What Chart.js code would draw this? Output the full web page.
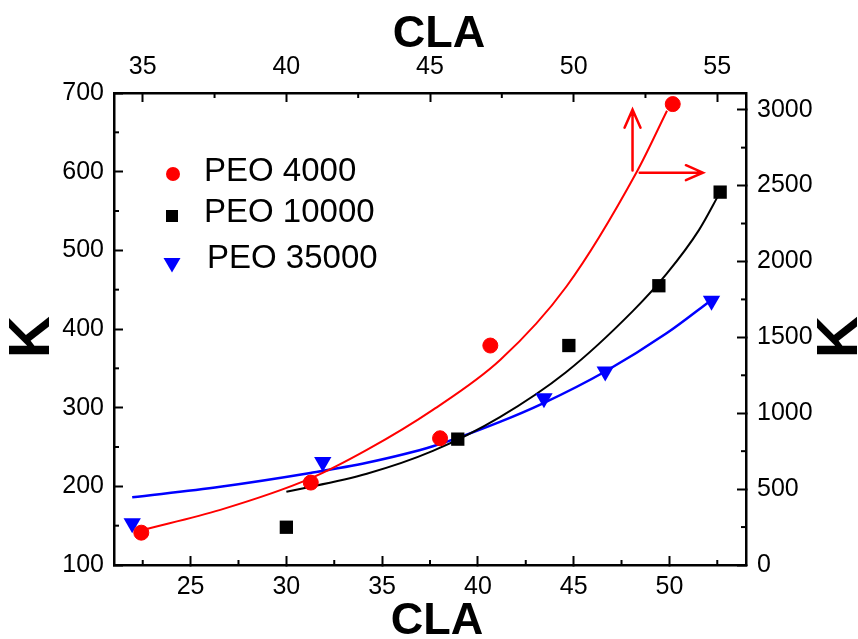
<!DOCTYPE html>
<html>
<head>
<meta charset="utf-8">
<script src="https://cdn.jsdelivr.net/npm/chart.js@4.4.0/dist/chart.umd.min.js"></script>
<style>
html, body { margin: 0; padding: 0; background: #fff; }
#wrap { width: 858px; height: 639px; }
</style>
</head>
<body>
<div id="wrap"><canvas id="kChart" width="858" height="639"></canvas></div>
<script>
// PEO 4000 is read on the top / right axes (that is what the arrows say), the others on bottom / left
const peo4000X = [34.95, 40.85, 45.35, 47.1, 53.45]
const peo4000Y = [213, 543, 835, 1446, 3037]
const peo10000X = [30.0, 38.95, 44.75, 49.45, 52.65]
const peo10000Y = [148, 260, 379, 455, 574]
const peo35000X = [21.95, 31.9, 43.45, 46.65, 52.2]
const peo35000Y = [153, 231, 312, 346, 436]

// fitted curves, points
const fit4000X = [35.0, 37.7, 40.8, 42.8, 45.1, 47.45, 49.75, 52.2, 53.25]
const fit4000Y = [231, 363, 567, 758, 1022, 1352, 1835, 2591, 2993]
const fit10000X = [30.0, 34.2, 37.65, 41.15, 44.6, 48.1, 49.85, 51.55, 52.65]
const fit10000Y = [193, 216, 245, 288, 345, 423, 470, 526, 574]
const fit35000X = [21.95, 26.55, 31.25, 34.2, 37.65, 41.15, 43.4, 46.65, 49.85, 52.2]
const fit35000Y = [186, 199.5, 217, 230, 251, 282, 305.5, 346, 394.5, 437]

const bottomTicks = [25, 30, 35, 40, 45, 50]
const bottomMinor = [22.5, 27.5, 32.5, 37.5, 42.5, 47.5, 52.5]
const topTicks = [35, 40, 45, 50, 55]
const topMinor = [37.5, 42.5, 47.5, 52.5]
const leftTicks = [100, 200, 300, 400, 500, 600, 700]
const leftMinor = [150, 250, 350, 450, 550, 650]
const rightTicks = [0, 500, 1000, 1500, 2000, 2500, 3000]
const rightMinor = [250, 750, 1250, 1750, 2250, 2750]

// the two arrows next to the red curve (top / right axis units)
const arrowUp = { x: 52.05, from: 2600, to: 3000 }
const arrowRight = { y: 2585, from: 52.3, to: 54.5 }

const RED = '#ff0000', BLACK = '#000000', BLUE = '#0000ff'
const FAMILY = "'Liberation Sans', Arial, sans-serif"

const pts = (xs, ys) => xs.map((x, i) => ({ x: x, y: ys[i] }))

function axis(pos, min, max, ticks, pad, size) {
    return {
        type: 'linear',
        position: pos,
        min: min,
        max: max,
        afterBuildTicks: s => { s.ticks = ticks.map(v => ({ value: v })) },
        afterFit: s => {
            if (pos === 'left' || pos === 'right') s.width = size
            else s.height = size
        },
        grid: {
            drawOnChartArea: false,
            drawTicks: true,
            tickLength: -9, // ticks point into the plot
            tickWidth: 2,
            tickColor: BLACK
        },
        border: { display: true, color: BLACK, width: 2.5 },
        ticks: {
            color: BLACK,
            font: { family: FAMILY, size: 25 },
            padding: pad,
            autoSkip: false,
            maxRotation: 0,
            callback: v => String(v)
        }
    }
}

// minor ticks, axis titles, legend and arrows
const extras = {
    id: 'extras',
    afterDraw(chart) {
        const { ctx, chartArea: a, scales } = chart
        ctx.save()

        ctx.strokeStyle = BLACK
        ctx.lineWidth = 2
        const minor = (scale, vals, horiz, edge, dir) => {
            vals.forEach(v => {
                const p = scale.getPixelForValue(v)
                ctx.beginPath()
                if (horiz) { ctx.moveTo(p, edge); ctx.lineTo(p, edge + dir * 5) }
                else { ctx.moveTo(edge, p); ctx.lineTo(edge + dir * 5, p) }
                ctx.stroke()
            })
        }
        minor(scales.x, bottomMinor, true, a.bottom, -1)
        minor(scales.x2, topMinor, true, a.top, 1)
        minor(scales.y, leftMinor, false, a.left, 1)
        minor(scales.y2, rightMinor, false, a.right, -1)

        // axis titles
        ctx.fillStyle = BLACK
        ctx.textAlign = 'center'
        ctx.textBaseline = 'middle'
        ctx.font = 'bold 45px ' + FAMILY
        ctx.fillText('CLA', a.left + 325, 35)
        ctx.fillText('CLA', a.left + 323, a.bottom + 57)
        ctx.font = 'bold 58px ' + FAMILY
        const midY = (a.top + a.bottom) / 2 + 8
        ;[33, chart.width - 17].forEach(x => {
            ctx.save()
            ctx.translate(x, midY)
            ctx.rotate(-Math.PI / 2)
            ctx.fillText('K', 0, 0)
            ctx.restore()
        })

        // legend
        const rows = [
            { ds: 0, mx: 59, my: 81, tx: 90, ty: 79 },
            { ds: 1, mx: 58, my: 123, tx: 90, ty: 120 },
            { ds: 2, mx: 58, my: 170, tx: 93, ty: 166 }
        ]
        ctx.font = '33px ' + FAMILY
        ctx.textAlign = 'left'
        rows.forEach(r => {
            const ds = chart.data.datasets[r.ds]
            const x = a.left + r.mx, y = a.top + r.my
            ctx.fillStyle = ds.backgroundColor
            ctx.beginPath()
            if (ds.pointStyle === 'circle') ctx.arc(x, y, 7, 0, Math.PI * 2)
            else if (ds.pointStyle === 'rect') ctx.rect(x - 6, y - 6, 12, 12)
            else {
                ctx.moveTo(x - 8.5, y - 5)
                ctx.lineTo(x + 8.5, y - 5)
                ctx.lineTo(x, y + 9.5)
                ctx.closePath()
            }
            ctx.fill()
            ctx.fillStyle = BLACK
            ctx.fillText(ds.label, a.left + r.tx, a.top + r.ty)
        })

        // arrows
        ctx.strokeStyle = RED
        ctx.lineWidth = 2.5
        ctx.lineCap = 'round'
        const ux = scales.x2.getPixelForValue(arrowUp.x)
        const uy0 = scales.y2.getPixelForValue(arrowUp.from)
        const uy1 = scales.y2.getPixelForValue(arrowUp.to)
        ctx.beginPath()
        ctx.moveTo(ux, uy0); ctx.lineTo(ux, uy1)
        ctx.moveTo(ux - 8, uy1 + 18); ctx.lineTo(ux, uy1); ctx.lineTo(ux + 8, uy1 + 18)
        ctx.stroke()
        const ry = scales.y2.getPixelForValue(arrowRight.y)
        const rx0 = scales.x2.getPixelForValue(arrowRight.from)
        const rx1 = scales.x2.getPixelForValue(arrowRight.to)
        ctx.beginPath()
        ctx.moveTo(rx0, ry); ctx.lineTo(rx1, ry)
        ctx.moveTo(rx1 - 17, ry - 7.5); ctx.lineTo(rx1, ry); ctx.lineTo(rx1 - 17, ry + 7.5)
        ctx.stroke()

        ctx.restore()
    }
}

const ctx = document.getElementById('kChart').getContext('2d')

const kChart = new Chart(ctx, {
    type: 'scatter',
    data: {
        datasets: [
            {
                label: 'PEO 4000',
                data: pts(peo4000X, peo4000Y),
                xAxisID: 'x2', yAxisID: 'y2',
                showLine: false,
                pointStyle: 'circle', pointRadius: 7.5,
                backgroundColor: RED, borderColor: RED, borderWidth: 1
            },
            {
                label: 'PEO 10000',
                data: pts(peo10000X, peo10000Y),
                xAxisID: 'x', yAxisID: 'y',
                showLine: false,
                pointStyle: 'rect', pointRadius: 9.4,
                backgroundColor: BLACK, borderColor: BLACK, borderWidth: 0
            },
            {
                label: 'PEO 35000',
                data: pts(peo35000X, peo35000Y),
                xAxisID: 'x', yAxisID: 'y',
                showLine: false,
                pointStyle: 'triangle', pointRadius: 10, pointRotation: 180,
                backgroundColor: BLUE, borderColor: BLUE, borderWidth: 0
            },
            {
                label: 'fit 4000',
                data: pts(fit4000X, fit4000Y),
                xAxisID: 'x2', yAxisID: 'y2',
                showLine: true, pointRadius: 0,
                borderColor: RED, borderWidth: 2,
                cubicInterpolationMode: 'monotone'
            },
            {
                label: 'fit 10000',
                data: pts(fit10000X, fit10000Y),
                xAxisID: 'x', yAxisID: 'y',
                showLine: true, pointRadius: 0,
                borderColor: BLACK, borderWidth: 2,
                cubicInterpolationMode: 'monotone'
            },
            {
                label: 'fit 35000',
                data: pts(fit35000X, fit35000Y),
                xAxisID: 'x', yAxisID: 'y',
                showLine: true, pointRadius: 0,
                borderColor: BLUE, borderWidth: 2.5,
                cubicInterpolationMode: 'monotone'
            }
        ]
    },
    options: {
        responsive: false,
        devicePixelRatio: 1,
        animation: false,
        layout: { padding: 0 },
        plugins: {
            legend: { display: false },
            tooltip: { enabled: false }
        },
        scales: {
            x: axis('bottom', 21, 54, bottomTicks, 16, 74),
            x2: axis('top', 34, 56, topTicks, 19.5, 93),
            y: axis('left', 100, 700, leftTicks, 19, 114),
            y2: axis('right', 0, 3110, rightTicks, 20, 112)
        }
    },
    plugins: [extras]
})
</script>
</body>
</html>
